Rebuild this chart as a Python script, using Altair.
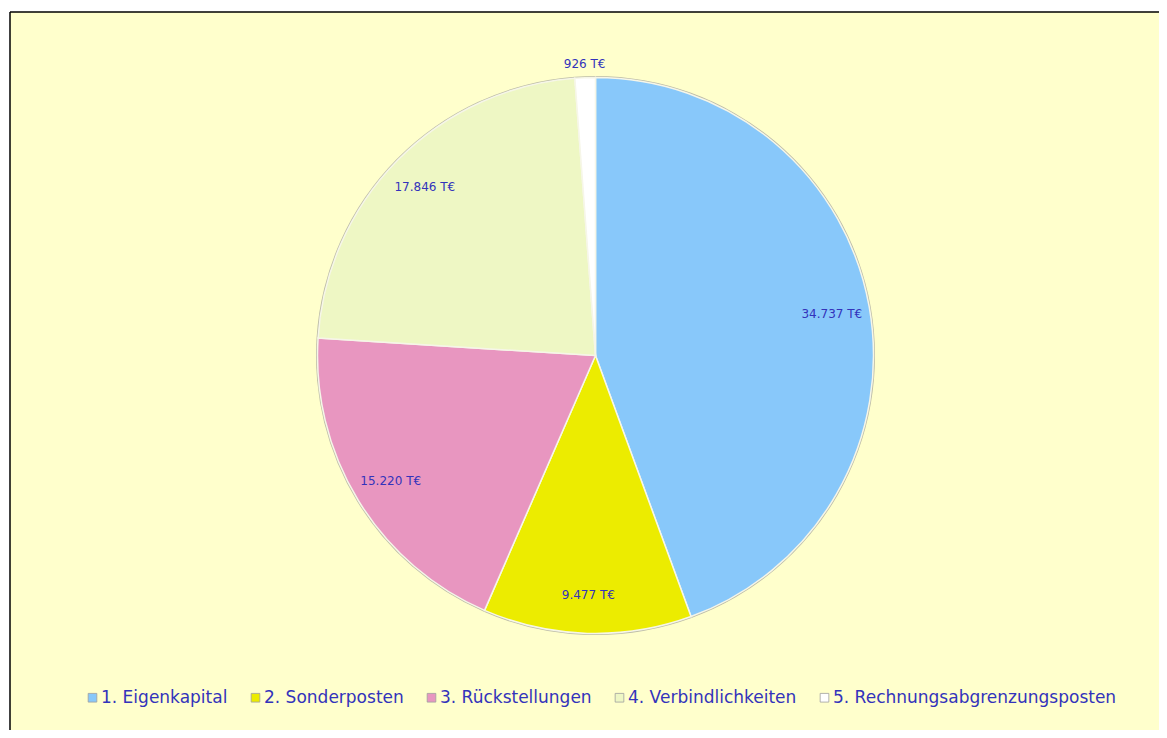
import altair as alt
import pandas as pd

categories = ["1. Eigenkapital", "2. Sonderposten", "3. Rückstellungen",
              "4. Verbindlichkeiten", "5. Rechnungsabgrenzungsposten"]
values = [34737, 9477, 15220, 17846, 926]
colors = ["#88C8FA", "#ECEC00", "#E896C0", "#EEF7C4", "#FFFFFF"]

df = pd.DataFrame({
    "cat": categories,
    "value": values,
    "idx": list(range(len(values))),
    "label": [f"{v:,}".replace(",", ".") + " T€" for v in values],
})

W, H = 1149, 718
CX, CY, R = 585.5, 343.5, 278
R_IN, R_OUT = 240, 292
txt_color = "#3333BB"

base = alt.Chart(df).encode(
    theta=alt.Theta("value:Q", stack=True),
    order=alt.Order("idx:Q"),
)

rim = base.mark_arc(outerRadius=R + 1.5, color="#BDBDA8").encode(
    x=alt.value(CX), y=alt.value(CY)
)

pie = base.mark_arc(outerRadius=R, stroke="#F6F6E8", strokeWidth=1.5).encode(
    x=alt.value(CX), y=alt.value(CY),
    color=alt.Color(
        "cat:N",
        scale=alt.Scale(domain=categories, range=colors),
        sort=categories,
        legend=alt.Legend(
            title=None, orient="none", direction="horizontal",
            legendX=74, legendY=677,
            symbolType="square", symbolSize=75,
            symbolStrokeColor="#A0A0A0", symbolStrokeWidth=0.8,
            labelFont="DejaVu Sans", labelFontSize=17, labelColor=txt_color,
            labelLimit=0,
            columnPadding=19, symbolOffset=0, labelOffset=0,
        ),
    ),
)

labels = alt.Chart(df).transform_window(
    cum="sum(value)", sort=[alt.SortField("idx")], frame=[None, 0]
).transform_joinaggregate(
    total="sum(value)"
).transform_calculate(
    ang=f"2 * PI * (datum.cum - datum.value / 2) / datum.total",
    r=f"datum.value < 2000 ? {R_OUT} : {R_IN}",
).transform_calculate(
    px=f"{CX} + datum.r * sin(datum.ang)",
    py=f"{CY} - datum.r * cos(datum.ang)",
).mark_text(font="DejaVu Sans", fontSize=12, color=txt_color).encode(
    x=alt.X("px:Q", scale=None),
    y=alt.Y("py:Q", scale=None),
    text="label:N",
)

frame_df = pd.DataFrame({"k": [0]})
left_edge = alt.Chart(frame_df).mark_rule(color="#000000", strokeWidth=1.5).encode(
    x=alt.value(0), y=alt.value(0), y2=alt.value(H)
)
top_edge = alt.Chart(frame_df).mark_rule(color="#000000", strokeWidth=1.5).encode(
    x=alt.value(0), x2=alt.value(W), y=alt.value(0)
)

chart = alt.layer(rim, pie, labels, left_edge, top_edge).properties(
    width=W, height=H,
    autosize=alt.AutoSizeParams(type="none"),
    padding={"left": 2, "top": 4, "right": 0, "bottom": 0},
    background="#FFFFFF",
).configure_view(fill="#FFFFCC", stroke=None)

chart.save("out.html", embed_options={"renderer": "svg", "actions": False})
